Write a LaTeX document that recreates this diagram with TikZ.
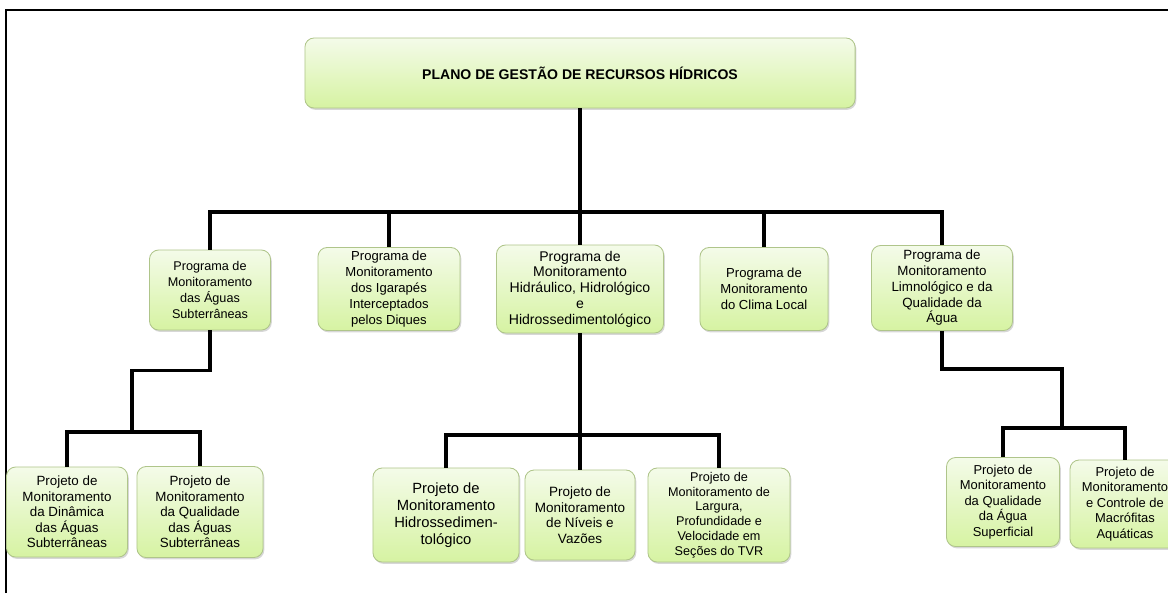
\documentclass[tikz,border=0pt]{standalone}
\usepackage{fontspec}
\setmainfont{Liberation Sans}
\usepackage{tikz}
\usetikzlibrary{shadows}
\definecolor{boxtop}{HTML}{F4FBE9}
\definecolor{boxbottom}{HTML}{D6F3A2}
\definecolor{boxline}{HTML}{AFC58A}
\newcommand{\fsz}[2]{\fontsize{#1}{#2}\selectfont}

\begin{document}
\begin{tikzpicture}[x=0.025cm, y=-0.025cm,
    box style/.style={rectangle, rounded corners=6.5pt, draw=boxline, line width=0.6pt, top color=boxtop, bottom color=boxbottom, align=center, inner sep=1pt, drop shadow={shadow xshift=0.9pt, shadow yshift=-1.3pt, fill=black!35, opacity=0.45}},
    link style/.style={draw, line width=2.3pt}
]
\useasboundingbox (0,0) rectangle (1168,593);
\draw[line width=1.6pt] (6,593) -- (6,10) -- (1168,10);

\node[box style, minimum width=13.75cm, minimum height=1.75cm, font=\fsz{10}{12}\bfseries] (plano) at (580,73) {PLANO DE GESTÃO DE RECURSOS HÍDRICOS};

\node[box style, minimum width=3.025cm, minimum height=2cm, font=\fsz{9}{11.4}] (subt) at (210,290) {Programa de\\Monitoramento\\das Águas\\Subterrâneas};
\node[box style, minimum width=3.55cm, minimum height=2.075cm, font=\fsz{9.3}{11.4}] (igar) at (389,289) {Programa de\\Monitoramento\\dos Igarapés\\Interceptados\\pelos Diques};
\node[box style, minimum width=4.175cm, minimum height=2.2cm, font=\fsz{10}{11.2}] (hidr) at (580,289) {Programa de\\Monitoramento\\Hidráulico, Hidrológico\\e\\Hidrossedimentológico};
\node[box style, minimum width=3.2cm, minimum height=2.075cm, font=\fsz{9.3}{11.5}] (clima) at (764,289) {Programa de\\Monitoramento\\do Clima Local};
\node[box style, minimum width=3.525cm, minimum height=2.125cm, font=\fsz{9.5}{11.2}] (limn) at (942,288) {Programa de\\Monitoramento\\Limnológico e da\\Qualidade da\\Água};

\node[box style, minimum width=3.025cm, minimum height=2.25cm, font=\fsz{9.5}{11}] (dinam) at (67,512) {Projeto de\\Monitoramento\\da Dinâmica\\das Águas\\Subterrâneas};
\node[box style, minimum width=3.15cm, minimum height=2.275cm, font=\fsz{9.5}{11}] (qualsub) at (200,512) {Projeto de\\Monitoramento\\da Qualidade\\das Águas\\Subterrâneas};
\node[box style, minimum width=3.65cm, minimum height=2.35cm, font=\fsz{10.5}{12.2}] (sedim) at (446,515) {Projeto de\\Monitoramento\\Hidrossedimen-\\tológico};
\node[box style, minimum width=2.75cm, minimum height=2.25cm, font=\fsz{9.6}{11}] (niveis) at (580,515) {Projeto de\\Monitoramento\\de Níveis e\\Vazões};
\node[box style, minimum width=3.55cm, minimum height=2.35cm, font=\fsz{9}{10.5}] (largura) at (719,515) {Projeto de\\Monitoramento de\\Largura,\\Profundidade e\\Velocidade em\\Seções do TVR};
\node[box style, minimum width=2.825cm, minimum height=2.225cm, font=\fsz{9.2}{11}] (qualsup) at (1003,502) {Projeto de\\Monitoramento\\da Qualidade\\da Água\\Superficial};
\node[box style, minimum width=2.75cm, minimum height=2.2cm, font=\fsz{9.2}{11}] (macrof) at (1125,504) {Projeto de\\Monitoramento\\e Controle de\\Macrófitas\\Aquáticas};

\coordinate (bus) at (580,212);
\coordinate (subtjoin) at (132,432);
\coordinate (hidrjoin) at (580,435);
\coordinate (limnjoin) at (1062,428);

\draw[link style] (plano) -- (bus);
\draw[link style] (subt.north) |- (bus) -| (limn.north);
\draw[link style] (bus) -| (igar.north);
\draw[link style] (bus) -- (hidr);
\draw[link style] (bus) -| (clima.north);

\draw[link style] (subt.south) -- ++(0,40) -| (subtjoin);
\draw[link style] (dinam.north) |- (subtjoin) -| (qualsub.north);

\draw[link style] (hidr) -- (hidrjoin);
\draw[link style] (sedim.north) |- (hidrjoin) -| (largura.north);
\draw[link style] (hidrjoin) -- (niveis);

\draw[link style] (limn.south) -- ++(0,38) -| (limnjoin);
\draw[link style] (qualsup.north) |- (limnjoin) -| (macrof.north);
\end{tikzpicture}
\end{document}
